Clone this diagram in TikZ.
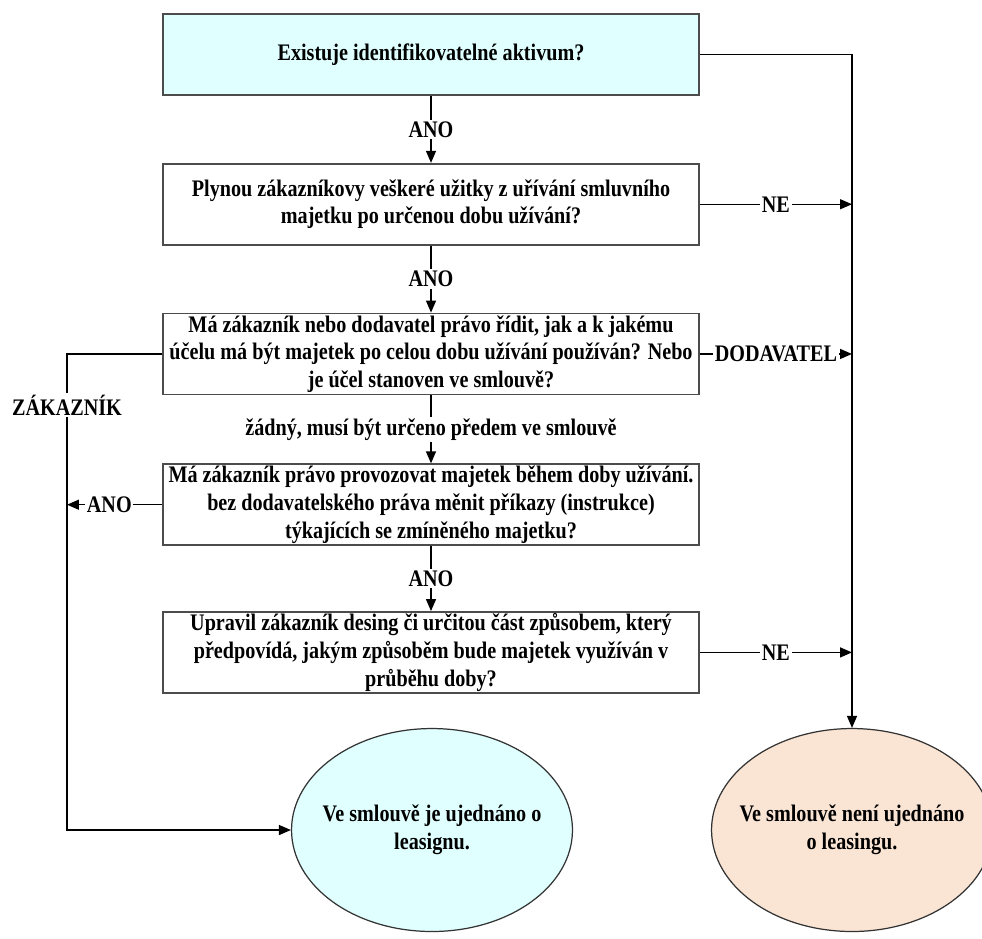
\documentclass[tikz,border=0pt]{standalone}
\usepackage{fontspec}
\setmainfont{Liberation Serif}[FakeStretch=0.85]
\usepackage{tikz}
\usetikzlibrary{positioning,arrows.meta,shapes.geometric}

\definecolor{askcyan}{HTML}{E0FFFF}
\definecolor{nopeach}{HTML}{FAE5D5}

\begin{document}
\begin{tikzpicture}[x=0.02cm, y=-0.02cm, font=\fontsize{13.5}{15.8}\selectfont\bfseries,
  qbox/.style={rectangle, draw=black!70, line width=1pt, minimum width=10.72cm, minimum height=1.62cm, align=center, inner xsep=1pt, inner ysep=0pt},
  endst/.style={ellipse, draw=black!80, line width=0.7pt, minimum width=5.62cm, minimum height=4.06cm, inner xsep=-0.35cm, inner ysep=0pt, align=center},
  arr/.style={-{Triangle[length=2.4mm, width=2mm]}, line width=0.8pt},
  lab/.style={fill=white, inner sep=1pt}]
\useasboundingbox (0,0) rectangle (982,938);
\node[qbox, fill=askcyan] (q1) at (431,54.5) {Existuje identifikovatelné aktivum?};
\node[qbox, below=1.34cm of q1] (q2) {Plynou zákazníkovy veškeré užitky z uřívání smluvního\\majetku po určenou dobu užívání?};
\node[qbox, below=1.34cm of q2] (q3) {Má zákazník nebo dodavatel právo řídit, jak a k jakému\\účelu má být majetek po celou dobu užívání používán? Nebo\\je účel stanoven ve smlouvě?};
\node[qbox, below=1.36cm of q3] (q4) {Má zákazník právo provozovat majetek během doby užívání.\\bez dodavatelského práva měnit příkazy (instrukce)\\týkajících se zmíněného majetku?};
\node[qbox, below=1.3cm of q4] (q5) {Upravil zákazník desing či určitou část způsobem, který\\předpovídá, jakým způsoběm bude majetek využíván v\\průběhu doby?};
\node[endst, fill=askcyan] (yes) at (432,830) {Ve smlouvě je ujednáno o\\leasignu.};
\node[endst, fill=nopeach] (no) at (852,830) {Ve smlouvě není ujednáno\\o leasingu.};
\coordinate (zk) at (67,0);
% main column
\draw[arr] (q1) -- node[lab]{ANO} (q2);
\draw[arr] (q2) -- node[lab]{ANO} (q3);
\draw[arr] (q3) -- node[lab]{žádný, musí být určeno předem ve smlouvě} (q4);
\draw[arr] (q4) -- node[lab]{ANO} (q5);
% right side
\draw[arr] (q1.east) -| (no.north);
\draw[arr] (q2.east) -- node[lab]{NE} (q2.east -| no.north);
\draw[arr] (q3.east) -- node[lab]{DODAVATEL} (q3.east -| no.north);
\draw[arr] (q5.east) -- node[lab]{NE} (q5.east -| no.north);
% left side
\draw[arr] (q3.west) -| node[lab, pos=0.554]{ZÁKAZNÍK} (zk |- yes.west) -- (yes.west);
\draw[arr] (q4.west) -- node[lab, xshift=-3pt]{ANO} (q4.west -| zk);
\end{tikzpicture}
\end{document}
